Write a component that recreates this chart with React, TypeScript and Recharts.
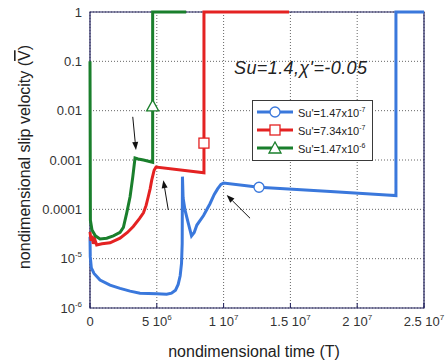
import React from 'react';
import { LineChart, Line, XAxis, YAxis, CartesianGrid, Legend, ReferenceLine, ReferenceArea } from 'recharts';

// axis ticks
const xTicks = [0, 5e6, 1e7, 1.5e7, 2e7, 2.5e7];
const xTickBase = ['0', '5 10', '1 10', '1.5 10', '2 10', '2.5 10'];
const xTickExp = ['', '6', '7', '7', '7', '7'];
const yTicks = [1e-6, 1e-5, 1e-4, 1e-3, 1e-2, 0.1, 1];
const yTickBase = ['10', '10', '0.0001', '0.001', '0.01', '0.1', '1'];
const yTickExp = ['-6', '-5', '', '', '', '', ''];

// Su' = 1.47e-7 (blue)
const blueT = [0, 0.02e6, 0.1e6, 0.3e6, 0.75e6, 1.5e6, 2.25e6, 3.0e6, 3.74e6, 5.0e6, 5.74e6, 6.1e6, 6.4e6, 6.6e6, 6.75e6, 6.85e6, 6.9e6, 6.92e6, 6.97e6, 7.1e6, 7.36e6, 7.6e6, 7.8e6, 8.0e6, 8.5e6, 8.98e6, 9.3e6, 9.55e6, 9.8e6, 1.0e7, 1.265e7, 1.8e7, 2.22e7, 2.29e7, 2.29e7, 2.5e7];
const blueV = [2.8e-5, 1.1e-5, 6.5e-6, 5.0e-6, 3.7e-6, 2.9e-6, 2.5e-6, 2.2e-6, 2.0e-6, 1.95e-6, 1.9e-6, 2.0e-6, 2.3e-6, 3.0e-6, 4.5e-6, 8e-6, 2e-5, 4.6e-4, 1.7e-4, 1.0e-4, 5.2e-5, 2.9e-5, 3.4e-5, 4.8e-5, 7.5e-5, 1.3e-4, 2.0e-4, 2.6e-4, 3.2e-4, 3.4e-4, 2.8e-4, 2.3e-4, 1.95e-4, 1.9e-4, 1, 1];

// Su' = 7.34e-7 (red)
const redT = [0, 0.08e6, 0.15e6, 0.25e6, 0.35e6, 0.5e6, 0.9e6, 1.5e6, 2.25e6, 2.8e6, 3.24e6, 3.7e6, 4.0e6, 4.2e6, 4.36e6, 4.5e6, 4.62e6, 4.8e6, 4.94e6, 8.53e6, 8.53e6, 8.53e6, 1.49e7];
const redV = [3.5e-5, 2.3e-5, 2.9e-5, 2.0e-5, 2.5e-5, 1.9e-5, 2.0e-5, 2.1e-5, 2.6e-5, 3.4e-5, 4.5e-5, 6.5e-5, 8.5e-5, 1.2e-4, 1.8e-4, 2.6e-4, 3.9e-4, 6.2e-4, 7.2e-4, 5.5e-4, 0.0022, 1, 1];

// Su' = 1.47e-6 (green)
const greenT = [0, 0.03e6, 0.15e6, 0.4e6, 0.75e6, 1.25e6, 1.75e6, 2.25e6, 2.5e6, 2.75e6, 3.0e6, 3.2e6, 3.37e6, 3.6e6, 4.0e6, 4.69e6, 4.69e6, 4.69e6, 7.2e6];
const greenV = [0.1, 6e-5, 3.8e-5, 2.9e-5, 2.5e-5, 2.6e-5, 2.9e-5, 3.4e-5, 4.3e-5, 8.5e-5, 1.8e-4, 4.5e-4, 1.1e-3, 1.05e-3, 1.0e-3, 9e-4, 0.0125, 1, 1];

// annotation arrows (tail -> head)
const arrowFromT = [3.2e6, 5.86e6, 1.198e7];
const arrowFromV = [7.5e-3, 9.7e-5, 6.6e-5];
const arrowToT = [3.44e6, 5.49e6, 1.023e7];
const arrowToV = [1.6e-3, 3.9e-4, 1.95e-4];

const seriesLabels = ["Su'=1.47x10", "Su'=7.34x10", "Su'=1.47x10"];
const seriesExp = ['-7', '-7', '-6'];

const BLUE = '#3a78dc';
const RED = '#e42222';
const GREEN = '#1a7f2c';
const NAVY = '#1f1f5c';
const FONT = '"Liberation Sans", Arial, sans-serif';

const toData = (t: number[], v: number[]) => t.map((x, i) => ({ t: x, v: v[i] }));
const blueData = toData(blueT, blueV);
const redData = toData(redT, redV);
const greenData = toData(greenT, greenV);

const blueMark = blueT.indexOf(1.265e7);
const redMark = redV.indexOf(0.0022);
const greenMark = greenV.indexOf(0.0125);

const Marker = ({ shape, x, y, color }: { shape: string; x: number; y: number; color: string }) => {
  if (shape === 'circle') return <circle cx={x} cy={y} r={5} fill="#fff" stroke={color} strokeWidth={1.3} />;
  if (shape === 'square') return <rect x={x - 5} y={y - 5} width={10} height={10} fill="#fff" stroke={color} strokeWidth={1.3} />;
  return <polygon points={`${x},${y - 6} ${x - 6},${y + 5} ${x + 6},${y + 5}`} fill="#fff" stroke={color} strokeWidth={1.3} />;
};

const makeDot = (idx: number, shape: string, color: string) => (p: any) =>
  p.index === idx ? (
    <g key={`m${p.index}`}>
      <Marker shape={shape} x={p.cx} y={p.cy} color={color} />
    </g>
  ) : (
    <g key={`m${p.index}`} />
  );

const XTick = ({ x, y, payload }: any) => {
  const i = xTicks.indexOf(payload.value);
  return (
    <g>
      <line x1={x} x2={x} y1={y} y2={y - 5} stroke={NAVY} strokeWidth={1} />
      <text x={x} y={y + 18} textAnchor="middle" fontSize={13} fill="#333" fontFamily={FONT}>
        {xTickBase[i]}
        {xTickExp[i] && (
          <tspan dy={-6} fontSize={8}>
            {xTickExp[i]}
          </tspan>
        )}
      </text>
    </g>
  );
};

const YTick = ({ x, y, payload }: any) => {
  const i = yTicks.indexOf(payload.value);
  return (
    <text x={x - 8} y={y + 4.5} textAnchor="end" fontSize={13} fill="#333" fontFamily={FONT}>
      {yTickBase[i]}
      {yTickExp[i] && (
        <tspan dy={-6} fontSize={8}>
          {yTickExp[i]}
        </tspan>
      )}
    </text>
  );
};

const YTitle = () => (
  <text x={24} y={157} transform="rotate(-90 24 157)" textAnchor="middle" dominantBaseline="central" fontSize={16} fill="#222" fontFamily={FONT}>
    nondimensional slip velocity (<tspan style={{ textDecoration: 'overline' }}>V</tspan>)
  </text>
);

const XTitle = () => (
  <text x={254} y={357} textAnchor="middle" fontSize={16} fill="#222" fontFamily={FONT}>
    nondimensional time (T)
  </text>
);

const Arrow = (p: any) => {
  const { x1, y1, x2, y2 } = p;
  const a = Math.atan2(y2 - y1, x2 - x1);
  const bx = x2 - 8 * Math.cos(a);
  const by = y2 - 8 * Math.sin(a);
  const w = 3;
  const pts = `${x2},${y2} ${bx - w * Math.sin(a)},${by + w * Math.cos(a)} ${bx + w * Math.sin(a)},${by - w * Math.cos(a)}`;
  return (
    <g>
      <line x1={x1} y1={y1} x2={bx} y2={by} stroke="#111" strokeWidth={1} />
      <polygon points={pts} fill="#111" />
    </g>
  );
};

const legendColors = [BLUE, RED, GREEN];
const legendShapes = ['circle', 'square', 'triangle'];

const LegendBox = () => (
  <div
    style={{
      width: 121,
      height: 61,
      boxSizing: 'border-box',
      border: '1px solid #3a3a3a',
      background: '#fff',
      paddingTop: 2,
      fontFamily: FONT,
    }}
  >
    {seriesLabels.map((s, i) => (
      <div key={i} style={{ display: 'flex', alignItems: 'center', height: 18 }}>
        <svg width={42} height={14} style={{ marginLeft: 3 }}>
          <line x1={1} x2={37} y1={7} y2={7} stroke={legendColors[i]} strokeWidth={3} />
          <Marker shape={legendShapes[i]} x={19} y={7} color={legendColors[i]} />
        </svg>
        <span style={{ fontSize: 11, color: '#222', whiteSpace: 'nowrap' }}>
          {s}
          <sup style={{ fontSize: 7 }}>{seriesExp[i]}</sup>
        </span>
      </div>
    ))}
  </div>
);

export default function App() {
  return (
    <div style={{ position: 'absolute', left: 0, top: 0, width: 445, height: 364, background: '#fff', fontFamily: FONT }}>
      <LineChart width={445} height={364} margin={{ top: 12, right: 21, bottom: 0, left: 0 }}>
        <CartesianGrid stroke="#666" strokeDasharray="1 2" />
        <XAxis
          dataKey="t"
          type="number"
          domain={[0, 2.5e7]}
          ticks={xTicks}
          interval={0}
          height={56}
          axisLine={false}
          tickLine={false}
          tickSize={0}
          tickMargin={0}
          tick={<XTick />}
          label={<XTitle />}
        />
        <YAxis
          dataKey="v"
          type="number"
          scale="log"
          domain={[1e-6, 1]}
          ticks={yTicks}
          interval={0}
          width={90}
          axisLine={false}
          tickLine={false}
          tickSize={0}
          tickMargin={0}
          tick={<YTick />}
          label={<YTitle />}
        />
        <ReferenceArea x1={0} x2={2.5e7} y1={1e-6} y2={1} fill="none" stroke={NAVY} strokeWidth={1.2} />
        {arrowFromT.map((t, i) => (
          <ReferenceLine
            key={i}
            segment={[
              { x: t, y: arrowFromV[i] },
              { x: arrowToT[i], y: arrowToV[i] },
            ]}
            shape={Arrow}
          />
        ))}
        <Line data={blueData} dataKey="v" stroke={BLUE} strokeWidth={3} dot={makeDot(blueMark, 'circle', BLUE)} activeDot={false} isAnimationActive={false} />
        <Line data={redData} dataKey="v" stroke={RED} strokeWidth={3} dot={makeDot(redMark, 'square', RED)} activeDot={false} isAnimationActive={false} />
        <Line data={greenData} dataKey="v" stroke={GREEN} strokeWidth={3} dot={makeDot(greenMark, 'triangle', GREEN)} activeDot={false} isAnimationActive={false} />
        <Legend layout="horizontal" verticalAlign="middle" align="center" wrapperStyle={{ left: 252, top: 100, width: 121, height: 61 }} content={() => <LegendBox />} />
      </LineChart>
      <div
        style={{
          position: 'absolute',
          left: 234,
          top: 59,
          fontSize: 18,
          lineHeight: '18px',
          letterSpacing: 0.4,
          fontStyle: 'italic',
          color: '#222',
          whiteSpace: 'nowrap',
        }}
      >
        Su=1.4,χ'=-0.05
      </div>
    </div>
  );
}
